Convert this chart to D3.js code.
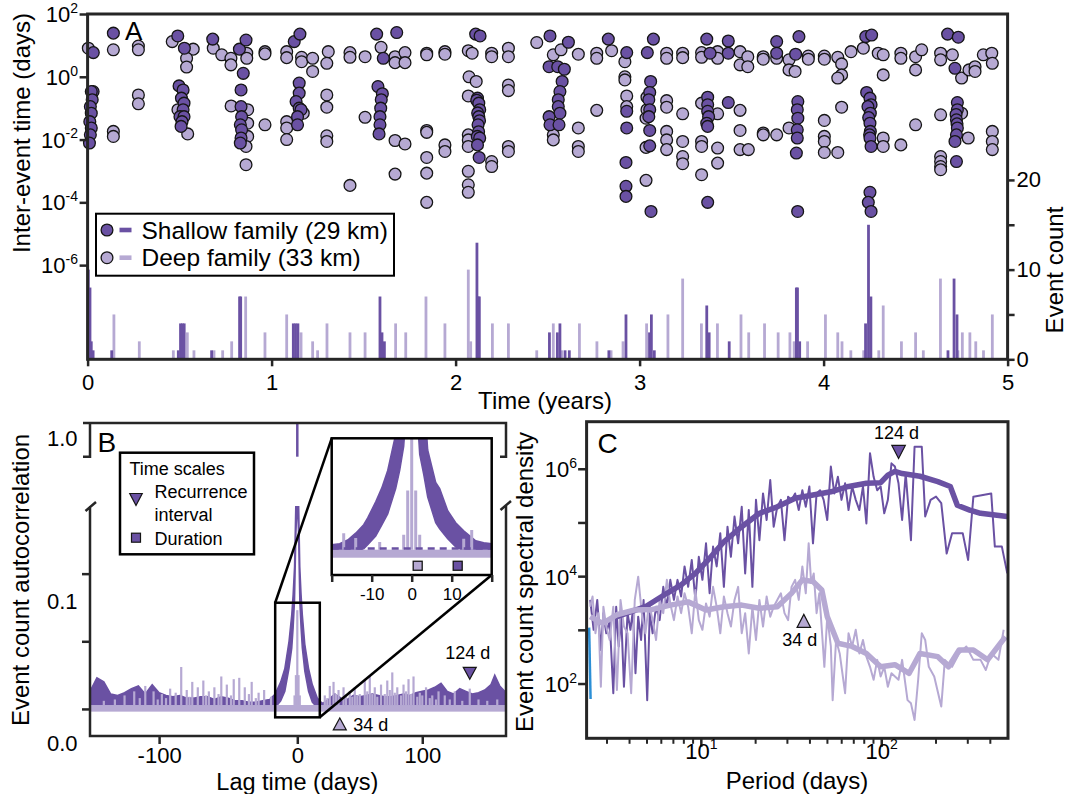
<!DOCTYPE html>
<html lang="en">
<head>
<meta charset="UTF-8">
<title>Repeating LFE families: timing, autocorrelation and spectra</title>
<script src="https://d3js.org/d3.v7.min.js"></script>
<style>
  body { margin: 0; background: #fff; }
  svg { display: block; font-family: "Liberation Sans", Arial, Helvetica, sans-serif; }
</style>
</head>
<body>
<svg id="fig" width="1069" height="794"></svg>
<script>
// ---------------- data ----------------
// Panel A: [time (years), log10 inter-event time (days)]
const shallowPts = [
  [0.031,0.77],[0.14,1.39],[0.03,-0.47],[0.02,-0.47],[0.025,-0.73],[0.015,-0.95],[0.02,-1.16],[0.012,-1.43],[0.02,-1.63],[0.015,-1.85],[0.01,-2.11],
  [0.49,1.30],[0.526,0.91],[0.497,-0.29],[0.519,-0.42],[0.51,-0.68],[0.524,-0.84],[0.519,-1.05],[0.502,-1.27],[0.524,-1.27],[0.513,-1.43],[0.508,-1.58],
  [0.68,1.20],[0.825,0.88],[0.861,1.17],[0.846,0.11],[0.834,-0.42],[0.834,-0.95],[0.837,-1.27],[0.83,-1.53],[0.837,-1.69],[0.834,-1.95],[0.83,-2.11],
  [1.123,1.12],[1.154,1.36],[1.15,-0.2],[1.15,-0.52],[1.133,-0.79],[1.15,-1.0],[1.16,-1.05],[1.141,-1.27],[1.141,-1.53],
  [1.571,1.36],[1.68,1.41],[1.607,0.59],[1.578,-0.31],[1.602,-0.54],[1.596,-0.73],[1.593,-1.0],[1.589,-1.27],[1.589,-1.53],[1.584,-1.82],
  [2.109,1.36],[2.133,1.30],[2.119,-0.68],[2.115,-0.75],[2.126,-0.84],[2.131,-1.05],[2.12,-1.15],[2.126,-1.27],[2.13,-1.4],[2.122,-1.53],[2.125,-1.75],[2.118,-1.9],[2.131,-1.95],[2.119,-2.17],[2.128,-2.57],
  [2.513,1.30],[2.613,1.10],[2.508,0.32],[2.555,0.32],[2.591,0.24],[2.579,-0.15],[2.567,-0.47],[2.558,-0.73],[2.558,-0.95],[2.567,-1.16],[2.508,-1.27],[2.513,-1.53],[2.562,-1.53],
  [2.83,1.20],[2.93,0.77],[2.93,-1.10],[2.93,-1.63],[2.926,-2.73],[2.926,-3.49],[2.926,-3.81],
  [3.042,0.77],[3.075,1.20],[3.06,-0.15],[3.055,-0.50],[3.05,-0.73],[3.055,-1.05],[3.05,-1.27],[3.055,-1.71],[3.055,-2.20],[3.062,-4.29],
  [3.365,1.20],[3.383,0.75],[3.482,1.14],[3.482,0.75],[3.37,-0.65],[3.37,-0.89],[3.37,-1.10],[3.375,-1.27],[3.365,-1.48],[3.37,-1.58],[3.482,-0.82],[3.37,-4.0],
  [3.745,1.12],[3.745,0.75],[3.866,1.28],[3.848,0.72],
  [3.86,-0.79],[3.857,-1.05],[3.86,-1.32],[3.857,-1.69],[3.857,-1.95],[3.852,-2.43],[3.859,-4.29],
  [4.229,1.28],[4.261,1.33],[4.234,-0.50],[4.252,-0.68],[4.258,-0.89],[4.241,-0.95],[4.254,-1.16],[4.245,-1.3],[4.252,-1.48],[4.254,-1.74],[4.25,-1.85],[4.252,-1.95],[4.258,-2.22],[4.252,-3.68],[4.243,-4.0],[4.258,-4.29],
  [4.674,1.36],[4.732,1.26],[4.714,0.27],[4.727,-0.82],[4.727,-1.05],[4.72,-1.2],[4.722,-1.37],[4.725,-1.5],[4.727,-1.63],[4.722,-1.85],[4.714,-2.06],[4.722,-2.70]
];
const deepPts = [
  [0.004,0.91],[0.14,0.86],[0.14,-1.74],[0.14,-1.90],[0.276,0.98],[0.276,0.86],[0.276,-0.58],[0.276,-0.86],
  [0.46,1.12],[0.574,0.88],[0.538,0.59],[0.538,0.31],[0.544,-1.82],[0.491,-1.05],
  [0.683,0.91],[0.729,0.70],[0.779,0.59],[0.779,0.38],[0.865,0.75],[0.865,0.59],[0.78,-0.93],[0.87,-1.05],[0.87,-1.48],[0.87,-1.90],[0.861,-2.22],[0.861,-2.80],
  [0.964,0.80],[0.964,0.73],[0.964,-1.53],
  [1.082,0.80],[1.082,0.61],[1.163,0.62],[1.163,0.48],[1.223,0.59],[1.223,0.17],[1.082,-1.43],[1.082,-1.63],[1.082,-2.0],[1.172,-1.16],
  [1.308,0.80],[1.30,0.43],[1.30,-0.58],[1.30,-0.97],[1.30,-1.88],[1.30,-2.06],[1.426,0.77],[1.426,0.62],[1.508,0.64],[1.426,-3.46],[1.508,-1.29],
  [1.595,0.94],[1.671,0.64],[1.671,0.45],[1.725,0.77],[1.725,0.45],[1.671,-2.03],[1.725,-2.14],[1.671,-3.1],
  [1.843,0.75],[1.843,0.70],[1.942,0.80],[1.942,0.72],[1.843,-1.71],[1.843,-1.77],[1.843,-2.57],[1.843,-3.07],[1.843,-4.0],[1.942,-2.17],[1.942,-2.38],
  [2.069,0.83],[2.09,0.75],[2.196,0.75],[2.196,0.64],[2.287,0.91],[2.287,0.64],[2.073,0.0],[2.112,-0.15],[2.287,-0.26],[2.287,-0.44],[2.069,-0.61],
  [2.069,-1.85],[2.069,-2.01],[2.069,-2.22],[2.196,-2.70],[2.196,-2.86],[2.287,-2.22],[2.287,-2.38],[2.069,-3.01],[2.069,-3.44],[2.069,-3.68],[2.441,1.09],
  [2.531,0.70],[2.573,0.86],[2.667,0.72],[2.531,-1.85],[2.531,-2.01],[2.667,-1.63],[2.667,-2.22],[2.667,-2.38],[2.767,-1.07],[2.767,0.75],[2.767,0.59],
  [2.848,0.83],[2.92,0.48],[2.92,0.0],[2.92,-0.10],[2.93,-0.61],[2.93,-0.95],[3.035,-2.25],[3.035,-3.30],[3.04,-0.65],[3.04,-1.05],[3.035,-1.32],
  [3.147,0.75],[3.147,0.59],[3.147,-0.76],[3.147,-0.97],[3.147,-1.74],[3.147,-2.01],[3.147,-2.32],
  [3.234,0.75],[3.234,0.61],[3.234,-1.18],[3.234,-2.06],[3.234,-2.54],[3.234,-2.77],
  [3.337,0.77],[3.337,0.62],[3.424,0.80],[3.424,0.59],[3.546,0.80],[3.546,0.38],[3.588,0.64],[3.588,0.32],[3.672,0.64],[3.672,0.56],[3.745,0.59],
  [3.337,-0.84],[3.424,-1.18],[3.337,-2.06],[3.337,-2.22],[3.424,-2.27],[3.424,-2.75],[3.337,-3.12],[3.546,-1.07],[3.546,-1.71],[3.546,-2.32],[3.591,-2.32],
  [3.672,-1.79],[3.672,-1.85],[3.745,-1.85],
  [3.812,0.54],[3.812,0.22],[3.845,0.17],[3.917,0.66],[3.917,0.56],[4.004,0.66],[4.004,0.56],[4.077,0.62],[4.098,0.41],[4.098,0.06],[4.077,-0.04],
  [4.149,0.80],[4.216,0.91],[4.297,0.75],[4.324,0.70],[4.324,0.06],[4.42,0.75],[4.42,0.59],[4.50,0.64],[4.533,0.86],[4.50,0.22],
  [4.636,0.75],[4.636,0.54],[4.70,0.70],[4.75,-0.04],[4.79,0.22],[4.823,0.32],[4.823,0.17],[4.868,0.70],[4.914,0.75],[4.917,0.43],
  [3.812,-1.63],[4.004,-1.39],[4.004,-1.90],[4.004,-2.06],[4.004,-2.41],[4.077,-2.41],[4.098,-0.97],[4.324,-1.95],[4.324,-2.22],[4.42,-2.17],[4.50,-1.53],
  [4.636,-1.21],[4.636,-2.54],[4.636,-2.70],[4.636,-2.86],[4.636,-2.96],[4.75,-1.16],[4.786,-1.95],[4.917,-1.74],[4.917,-2.06],[4.917,-2.32]
];
// Panel A: event counts [time (years), count]
const shallowBars = [
  [0.004,10],[0.013,8],[0.02,2],[0.03,1],[0.131,1],[0.493,1],[0.505,4],[0.515,4],[0.525,4],[0.674,1],[0.826,7],[0.832,7],
  [1.118,4],[1.13,4],[1.143,4],[1.589,7],[1.6,3],[1.613,2],[2.116,13],[2.123,7],[2.129,7],[2.51,3],[2.553,3],[2.567,4],[2.595,1],[2.618,1],
  [2.833,1],[2.926,5],[3.054,3],[3.064,5],[3.08,1],[3.365,6],[3.378,3],[3.487,2],[3.852,8],[3.858,8],[3.87,2],
  [4.228,4],[4.244,15],[4.257,7],[4.676,1],[4.709,9],[4.725,5]
];
const deepBars = [
  [0.143,5],[0.281,2],[0.466,1],[0.542,3],[0.578,1],[0.687,1],[0.734,1],[0.783,2],[0.859,7],[0.964,3],[1.082,5],[1.16,3],[1.223,2],[1.25,1],
  [1.301,4],[1.426,3],[1.508,3],[1.6,1],[1.674,4],[1.729,3],[1.839,7],[1.942,4],[2.069,10],[2.082,2],[2.2,4],[2.287,4],[2.441,1],[2.531,4],
  [2.577,1],[2.673,4],[2.768,2],[2.845,1],[2.91,2],[3.038,4],[3.154,5],[3.234,9],[3.336,4],[3.423,4],[3.551,5],[3.593,3],[3.679,4],[3.753,3],
  [3.817,3],[3.84,2],[3.913,2],[4.01,5],[4.077,3],[4.1,2],[4.148,1],[4.218,1],[4.3,1],[4.324,6],[4.423,2],[4.5,3],[4.542,1],[4.635,9],
  [4.73,1],[4.754,3],[4.795,3],[4.827,2],[4.869,1],[4.917,5]
];
const yearTicks = [0, 1, 2, 3, 4, 5];
const dtExponents = [2, 0, -2, -4, -6];
const countTicks = [0, 5, 10, 15, 20];

// Panel B: shallow autocorrelation band [lag (days), low, high]
const shallowAcf = [
  [-150,0.0195,0.033],[-145,0.0195,0.043],[-140,0.0195,0.040],[-135,0.0195,0.031],[-130,0.0195,0.030],[-125,0.0195,0.032],
  [-120,0.0195,0.035],[-115,0.0195,0.037],[-110,0.0195,0.031],[-105,0.0195,0.038],[-100,0.0195,0.032],[-95,0.0195,0.030],
  [-90,0.0195,0.029],[-85,0.0195,0.030],[-80,0.0195,0.028],[-75,0.0195,0.028],[-70,0.0195,0.029],[-65,0.0195,0.029],
  [-60,0.0195,0.027],[-55,0.0195,0.029],[-50,0.0195,0.028],[-45,0.0195,0.026],[-40,0.0195,0.026],[-35,0.0195,0.025],
  [-30,0.0195,0.025],[-25,0.0195,0.026],[-20,0.0195,0.027],[-16,0.021,0.031],[-12,0.026,0.040],[-9,0.033,0.050],
  [-6,0.050,0.070],[-4,0.065,0.090],[-3,0.080,0.105],[-2,0.100,0.125],[-1,0.150,0.175],[0,0.175,0.175],[1,0.150,0.175],
  [2,0.100,0.125],[3,0.080,0.105],[4,0.065,0.090],[6,0.048,0.068],[9,0.033,0.050],[12,0.025,0.038],[16,0.021,0.028],
  [20,0.0195,0.024],[25,0.0195,0.027],[30,0.0195,0.031],[35,0.0195,0.028],[40,0.0195,0.027],[45,0.0195,0.030],
  [50,0.0195,0.029],[55,0.0195,0.030],[60,0.0195,0.031],[65,0.0195,0.030],[70,0.0195,0.029],[75,0.0195,0.029],
  [80,0.0195,0.030],[85,0.0195,0.031],[90,0.0195,0.030],[95,0.0195,0.032],[100,0.0195,0.033],[105,0.0195,0.034],
  [110,0.0195,0.036],[115,0.0195,0.039],[120,0.0195,0.033],[125,0.0195,0.031],[130,0.0195,0.035],[135,0.0195,0.033],
  [140,0.0195,0.031],[145,0.0195,0.032],[150,0.0195,0.034],[155,0.0195,0.038],[158,0.0195,0.045],[162,0.0195,0.037],
  [167,0.0195,0.032]
];
const shallowAcfZero = [0.96, 1.0];
// deep autocorrelation: flat floor plus spikes [lag, value]
const deepAcfFloor = [0.018, 0.0229];
const deepAcfSpikes = [
  [-140,0.026],[-132,0.027],[-125,0.030],[-118,0.033],[-114,0.028],[-110,0.037],[-104,0.033],[-101,0.027],[-98,0.031],[-95,0.028],
  [-92,0.035],[-88,0.032],[-84,0.051],[-80,0.034],[-78,0.029],[-76,0.040],[-72,0.036],[-68,0.041],[-66,0.030],[-64,0.033],[-60,0.036],
  [-57,0.031],[-55,0.044],[-51,0.038],[-48,0.030],[-46,0.042],[-42,0.043],[-38,0.036],[-35,0.031],[-33,0.040],[-30,0.028],[-28,0.032],
  [-24,0.034],[-19,0.029],[-2,0.030],[-1,0.045],[0,0.093],[1,0.045],[2,0.030],
  [22,0.030],[24,0.028],[26,0.037],[29,0.040],[31,0.031],[33,0.034],[37,0.036],[39,0.030],[42,0.033],[44,0.029],[46,0.036],[48,0.030],
  [50,0.031],[54,0.041],[56,0.033],[58,0.045],[60,0.031],[62,0.036],[64,0.029],[67,0.038],[70,0.031],[72,0.041],[74,0.034],[76,0.047],
  [78,0.032],[80,0.036],[83,0.030],[85,0.038],[87,0.033],[89,0.042],[91,0.031],[93,0.044],[96,0.029],[98,0.032],[100,0.030],[103,0.036],
  [106,0.028],[108,0.030],[111,0.027],[113,0.033],[118,0.030],[122,0.027],[126,0.033],[132,0.026],[138,0.035],[145,0.027],[152,0.026],[160,0.027]
];
const lagTicks = [-100, 0, 100];
const acfMinorTicks = [0.02, 0.07, 0.12];
const acfLabels = [[0.0, "0.0"], [0.1, "0.1"]];
// inset (zoom on lag 0) [lag, low, high]
const insetShallow = [
  [-20,0.0197,0.0215],[-18,0.0197,0.0218],[-16,0.0198,0.0227],[-14,0.0200,0.0244],[-12,0.0205,0.0265],[-11,0.0215,0.0282],
  [-9,0.0237,0.0322],[-7.5,0.0264,0.0356],[-6,0.0292,0.0400],[-4,0.0355,0.0490],[-3,0.0400,0.060],[-2,0.0460,0.060],
  [-1,0.060,0.060],[0,0.060,0.060],[1,0.060,0.060],[2,0.044,0.060],[3,0.039,0.060],[4,0.0334,0.0451],[6,0.0270,0.0370],
  [7,0.0255,0.0355],[9,0.0230,0.0300],[11,0.0210,0.0270],[13,0.0200,0.0250],[16,0.0196,0.0225],[18,0.0195,0.0220],[20,0.0195,0.0218]
];
const insetDeepFloor = [0.0183, 0.0203];
const insetDeepSpikes = [[-17,0.0244],[-14,0.0232],[-8,0.0222],[-2,0.024],[-1,0.035],[0,0.06],[1,0.035],[2,0.024],[13,0.023],[15,0.0252]];
const insetMean = 0.0206;
const insetTicks = [-20, -10, 0, 10, 20];
const durations = [[1.5, "deep"], [11.5, "shallow"]];
const recurrence = { shallow: [138, 0.0463], deep: [34, 0.0089] };

// Panel C: [log10 period (days), log10 spectral density]
const shallowPsd = [
  [0.384,3.566],[0.403,3.01],[0.423,3.566],[0.443,2.635],[0.457,3.32],[0.473,2.945],[0.492,3.19],[0.512,1.83],[0.528,3.44],[0.542,2.70],
  [0.556,3.255],[0.571,1.95],[0.591,3.32],[0.607,3.01],[0.621,3.38],[0.635,2.20],[0.650,3.255],[0.666,2.82],[0.680,3.566],[0.700,1.70],
  [0.714,3.32],[0.730,2.945],[0.749,3.44],[0.769,3.19],[0.789,3.81],[0.809,3.44],[0.828,3.94],[0.848,3.566],[0.868,3.94],[0.888,3.63],
  [0.907,4.19],[0.927,3.81],[0.947,4.31],[0.967,3.566],[0.986,4.37],[1.006,3.94],[1.026,4.62],[1.046,3.69],[1.065,4.56],[1.085,4.19],
  [1.105,4.81],[1.125,3.81],[1.145,4.93],[1.164,4.37],[1.184,5.12],[1.204,4.62],[1.224,5.30],[1.243,4.06],[1.263,5.24],[1.283,3.81],
  [1.303,5.43],[1.322,4.68],[1.342,5.55],[1.362,5.055],[1.382,5.80],[1.401,4.93],[1.421,5.30],[1.441,5.43],[1.461,4.68],[1.481,5.49],
  [1.500,5.43],[1.520,5.55],[1.540,5.24],[1.560,5.61],[1.579,5.30],[1.599,5.68],[1.619,4.62],[1.639,5.55],[1.658,5.61],[1.678,5.43],
  [1.698,5.055],[1.718,6.05],[1.737,5.55],[1.757,5.86],[1.777,5.43],[1.797,5.74],[1.816,5.24],[1.836,5.68],[1.856,5.43],[1.876,5.24],
  [1.896,5.68],[1.915,4.99],[1.935,6.30],[1.955,5.86],[1.975,5.61],[1.994,5.68],[2.014,5.18],[2.034,5.43],[2.054,6.11],[2.073,6.05],
  [2.093,5.74],[2.113,5.055],[2.133,5.92],[2.162,4.68],[2.182,6.42],[2.222,6.42],[2.241,5.12],[2.271,5.43],[2.301,5.49],[2.330,5.37],
  [2.360,4.43],[2.390,4.81],[2.449,4.81],[2.479,4.31],[2.508,5.49],[2.607,5.55],[2.627,4.56],[2.666,4.56],[2.696,4.06]
];
const shallowPsdSmooth = [
  [0.532,3.255],[0.690,3.44],[0.809,3.69],[0.888,3.845],[0.967,4.06],[1.046,4.34],[1.125,4.65],[1.224,4.93],[1.322,5.18],[1.421,5.30],
  [1.520,5.46],[1.619,5.52],[1.718,5.58],[1.816,5.68],[1.915,5.74],[1.994,5.75],[2.034,5.89],[2.073,5.96],[2.113,5.92],[2.212,5.87],
  [2.311,5.77],[2.380,5.68],[2.419,5.33],[2.488,5.24],[2.548,5.18],[2.696,5.12]
];
const deepPsd = [
  [0.384,3.44],[0.397,3.63],[0.413,2.945],[0.429,3.32],[0.443,1.95],[0.457,3.44],[0.473,3.07],[0.492,2.82],[0.512,3.44],[0.532,1.89],
  [0.552,3.566],[0.571,3.07],[0.591,2.945],[0.611,1.83],[0.631,3.566],[0.650,4.00],[0.670,3.32],[0.690,2.945],[0.710,3.50],[0.730,3.19],
  [0.749,2.82],[0.769,3.566],[0.789,3.32],[0.809,3.94],[0.828,3.50],[0.848,3.19],[0.868,3.63],[0.888,3.32],[0.907,3.69],[0.927,3.44],
  [0.947,2.945],[0.967,3.75],[0.986,3.19],[1.006,3.01],[1.026,3.50],[1.046,3.255],[1.065,3.81],[1.085,3.44],[1.105,2.945],[1.125,3.63],
  [1.145,3.32],[1.164,3.07],[1.184,3.566],[1.204,3.81],[1.224,2.945],[1.243,3.32],[1.263,2.57],[1.283,3.44],[1.303,2.82],[1.322,3.566],
  [1.342,3.07],[1.362,3.63],[1.382,3.255],[1.401,3.44],[1.421,3.566],[1.441,3.69],[1.461,3.32],[1.481,3.19],[1.500,3.81],[1.520,3.94],
  [1.540,3.566],[1.560,4.19],[1.579,3.69],[1.595,4.62],[1.609,3.88],[1.623,4.06],[1.639,3.32],[1.654,3.69],[1.668,3.01],[1.682,2.32],
  [1.698,3.255],[1.718,2.70],[1.728,1.70],[1.747,2.82],[1.767,2.57],[1.797,1.83],[1.816,2.945],[1.836,2.70],[1.856,3.01],[1.876,2.57],
  [1.896,2.82],[1.915,2.51],[1.935,2.32],[1.955,2.08],[1.975,2.45],[1.994,2.14],[2.014,2.32],[2.034,1.95],[2.054,2.20],[2.093,2.08],
  [2.113,2.45],[2.143,1.70],[2.162,1.64],[2.182,1.33],[2.202,2.08],[2.222,2.945],[2.241,2.82],[2.261,2.32],[2.291,2.14],[2.330,1.58],
  [2.350,2.45],[2.390,2.32],[2.429,2.57],[2.469,2.70],[2.508,2.45],[2.548,2.45],[2.577,2.26],[2.607,2.57],[2.647,2.45],[2.676,3.01]
];
const deepPsdSmooth = [
  [0.384,3.255],[0.453,3.13],[0.532,3.29],[0.631,3.38],[0.730,3.39],[0.828,3.47],[0.927,3.53],[1.026,3.38],[1.125,3.44],[1.224,3.47],
  [1.322,3.41],[1.421,3.44],[1.500,3.69],[1.560,3.94],[1.619,3.91],[1.668,3.75],[1.698,3.255],[1.757,2.76],[1.836,2.70],[1.915,2.57],
  [1.994,2.32],[2.073,2.36],[2.152,2.20],[2.212,2.57],[2.311,2.51],[2.370,2.32],[2.429,2.635],[2.508,2.635],[2.587,2.45],[2.686,2.88]
];
const edgeTrace = [[0.378,3.05],[0.386,1.72]];
const periodMinor = [3, 4, 5, 6, 7, 8, 9, 20, 30, 40, 50, 60, 70, 80, 90, 200, 300, 400];
const periodMajor = [1, 2];
const psdMajor = [2, 4, 6];
const psdMinor = [3, 5];
const psdMarks = { shallow: [124, 2.1e6, "124 d"], deep: [37, 1.5e3, "34 d"] };

// ---------------- drawing ----------------
const svg = d3.select("#fig");
const dark = "#6a51a3", light = "#b6a9d3", ink = "#262626", blue = "#2b8fd6";

function styleAxis(g, size) {
  g.attr("font-family", null).attr("font-size", size);
  g.select(".domain").remove();
  g.selectAll(".tick line").attr("stroke", ink).attr("stroke-width", 2.5);
  g.selectAll(".tick text").attr("fill", "#000");
}

function powLabel(g, x, y, exp, anchor, size) {
  const t = g.append("text").attr("x", x).attr("y", y).attr("text-anchor", anchor)
    .attr("font-size", size).attr("fill", "#000");
  t.append("tspan").text("10");
  t.append("tspan").attr("dy", -size * 0.42).attr("font-size", Math.round(size * 0.64)).text(exp);
}

function tri(x, y, w, h, down) {
  const s = down ? 1 : -1;
  return `M${x - w / 2},${y - s * h / 2}L${x + w / 2},${y - s * h / 2}L${x},${y + s * h / 2}Z`;
}

// ===== Panel A =====
const xA = d3.scaleLinear().domain([0, 5]).range([87.6, 1007.6]);
const yA = d3.scaleLog().domain([1e-9, 1e2]).range([359.3, 14]);
const yCnt = d3.scaleLinear().domain([0, 38.5]).range([359.3, 14]);
const gA = svg.append("g");

[[deepBars, light], [shallowBars, dark]].forEach(([bars, col]) => {
  gA.append("g").selectAll("line").data(bars).join("line")
    .attr("x1", d => xA(d[0])).attr("x2", d => xA(d[0]))
    .attr("y1", yCnt(0)).attr("y2", d => yCnt(d[1]))
    .attr("stroke", col).attr("stroke-width", 2.8);
});
[[deepPts, light], [shallowPts, dark]].forEach(([pts, col]) => {
  gA.append("g").selectAll("circle").data(pts).join("circle")
    .attr("cx", d => xA(d[0])).attr("cy", d => yA(10 ** d[1]))
    .attr("r", 5.9).attr("fill", col).attr("stroke", "#151515").attr("stroke-width", 1.3);
});

const axA = gA.append("g").attr("transform", `translate(0,${yA.range()[0]})`)
  .call(d3.axisBottom(xA).tickValues(yearTicks).tickFormat(d3.format("d")).tickSize(7).tickPadding(8));
styleAxis(axA, 22);

const ayA = gA.append("g").attr("transform", `translate(${xA(0)},0)`)
  .call(d3.axisLeft(yA).tickValues(dtExponents.map(e => 10 ** e)).tickFormat("").tickSize(8));
styleAxis(ayA, 22);
dtExponents.forEach(e => powLabel(gA, 78, yA(10 ** e) + 8, e, "end", 22));

const ayR = gA.append("g").attr("transform", `translate(${xA(5)},0)`)
  .call(d3.axisRight(yCnt).tickValues(countTicks).tickFormat(d => d % 10 === 0 ? d : "").tickSize(7).tickPadding(2));
styleAxis(ayR, 22);

gA.append("rect").attr("x", xA(0)).attr("y", yA(1e2)).attr("width", xA(5) - xA(0)).attr("height", yA(1e-9) - yA(1e2))
  .attr("fill", "none").attr("stroke", ink).attr("stroke-width", 3);

gA.append("text").attr("x", 125).attr("y", 39.5).attr("font-size", 26).text("A");
gA.append("text").attr("transform", "translate(29.5,133) rotate(-90)").attr("text-anchor", "middle")
  .attr("font-size", 24).text("Inter-event time (days)");
gA.append("text").attr("transform", "translate(1062.5,270) rotate(-90)").attr("text-anchor", "middle")
  .attr("font-size", 24).text("Event count");
gA.append("text").attr("x", 545).attr("y", 409).attr("text-anchor", "middle").attr("font-size", 24).text("Time (years)");

// legend A
const legA = gA.append("g");
legA.append("rect").attr("x", 96).attr("y", 213.7).attr("width", 298).attr("height", 62)
  .attr("fill", "#fff").attr("stroke", "#000").attr("stroke-width", 2);
[["Shallow family (29 km)", dark, 230], ["Deep family (33 km)", light, 257.7]].forEach(([lab, col, y]) => {
  legA.append("circle").attr("cx", 107).attr("cy", y).attr("r", 5.9).attr("fill", col)
    .attr("stroke", "#151515").attr("stroke-width", 1.3);
  legA.append("rect").attr("x", 119.5).attr("y", y - 2.3).attr("width", 12).attr("height", 4.6).attr("fill", col);
  legA.append("text").attr("x", 141.5).attr("y", y + 8.5).attr("font-size", 24.5).text(lab);
});

// ===== Panel B =====
const xB = d3.scaleLinear().domain([-150, 0, 167]).range([90, 297.3, 506]);
const yB = d3.scaleLinear().domain([0, 0.1]).range([736, 600.7]);
const yBtop = d3.scaleLinear().domain([0.96, 1.0]).range([456.7, 423]);
const gB = svg.append("g");

gB.append("clipPath").attr("id", "clipB").append("rect")
  .attr("x", 90).attr("y", 506).attr("width", 416).attr("height", 230);
const plotB = gB.append("g").attr("clip-path", "url(#clipB)");

plotB.append("path").datum(shallowAcf)
  .attr("d", d3.area().x(d => xB(d[0])).y0(d => yB(d[1])).y1(d => yB(d[2])))
  .attr("fill", dark).attr("stroke", dark).attr("stroke-width", 1.5);
plotB.append("rect").attr("x", xB(-150)).attr("width", xB(167) - xB(-150))
  .attr("y", yB(deepAcfFloor[1])).attr("height", yB(deepAcfFloor[0]) - yB(deepAcfFloor[1])).attr("fill", light);
plotB.append("g").selectAll("line").data(deepAcfSpikes).join("line")
  .attr("x1", d => xB(d[0])).attr("x2", d => xB(d[0]))
  .attr("y1", yB(deepAcfFloor[1])).attr("y2", d => yB(d[1]))
  .attr("stroke", light).attr("stroke-width", 2.2);

gB.append("line").attr("x1", xB(0)).attr("x2", xB(0))
  .attr("y1", yBtop(shallowAcfZero[0])).attr("y2", yBtop(shallowAcfZero[1]))
  .attr("stroke", dark).attr("stroke-width", 2.5);

// broken frame
const frameB = gB.append("g").attr("fill", "none").attr("stroke", ink).attr("stroke-width", 2.5);
frameB.append("path").attr("d", `M83,${yBtop(1)}H506V${yBtop(0.96)}H500`);
frameB.append("path").attr("d", `M90,${yBtop(1)}V${yBtop(0.96)}H83`);
frameB.append("path").attr("d", `M85.5,511L96,502M90,506V736H506V505M500.5,510L511,501`);

const axB = gB.append("g").attr("transform", "translate(0,736)")
  .call(d3.axisBottom(xB).tickValues(lagTicks).tickFormat(d => String(d)).tickSize(8).tickPadding(3));
styleAxis(axB, 22);
const ayB = gB.append("g").attr("transform", "translate(90,0)")
  .call(d3.axisLeft(yB).tickValues(acfMinorTicks).tickFormat("").tickSize(8));
styleAxis(ayB, 22);
acfLabels.forEach(([v, s]) => {
  gB.append("text").attr("x", 77.5).attr("y", yB(v) + (v === 0 ? 15 : 8)).attr("text-anchor", "end")
    .attr("font-size", 22).text(s);
});
gB.append("text").attr("x", 77.5).attr("y", (yBtop(0.96) + yBtop(1)) / 2 + 6.5).attr("text-anchor", "end")
  .attr("font-size", 22).text("1.0");

gB.append("text").attr("x", 97.5).attr("y", 452).attr("font-size", 28).text("B");
gB.append("text").attr("transform", "translate(29,580) rotate(-90)").attr("text-anchor", "middle")
  .attr("font-size", 24).text("Event count autocorrelation");
gB.append("text").attr("x", 297.3).attr("y", 790).attr("text-anchor", "middle").attr("font-size", 23.5).text("Lag time (days)");

// recurrence markers
const [rsLag, rsVal] = recurrence.shallow, [rdLag, rdVal] = recurrence.deep;
gB.append("path").attr("d", tri(xB(rsLag), yB(rsVal), 13, 12, true)).attr("fill", dark).attr("stroke", "#151515").attr("stroke-width", 1.2);
gB.append("text").attr("x", xB(rsLag) - 2).attr("y", 659).attr("text-anchor", "middle").attr("font-size", 18).text("124 d");
gB.append("path").attr("d", tri(xB(rdLag), yB(rdVal), 13, 12, false)).attr("fill", light).attr("stroke", "#151515").attr("stroke-width", 1.2);
gB.append("text").attr("x", xB(rdLag) + 13.5).attr("y", 730.5).attr("font-size", 18).text("34 d");

// zoom box and connectors
const ix = d3.scaleLinear().domain([-20, 20]).range([331.7, 491.7]);
const iy = d3.scaleLinear().domain([0.014, 0.048]).range([575, 438.3]);
const box = { l: -16, r: 18, b: 0.0138, t: 0.0985 };
gB.append("rect").attr("x", xB(box.l)).attr("y", yB(box.t)).attr("width", xB(box.r) - xB(box.l)).attr("height", yB(box.b) - yB(box.t))
  .attr("fill", "none").attr("stroke", "#000").attr("stroke-width", 2.5);
gB.append("line").attr("x1", xB(box.l)).attr("y1", yB(box.t)).attr("x2", ix(-20)).attr("y2", iy(0.048))
  .attr("stroke", "#000").attr("stroke-width", 2.5);
gB.append("line").attr("x1", xB(box.r)).attr("y1", yB(box.b)).attr("x2", ix(20)).attr("y2", iy(0.014))
  .attr("stroke", "#000").attr("stroke-width", 2.5);

// inset
const gI = gB.append("g");
gI.append("rect").attr("x", ix(-20)).attr("y", iy(0.048)).attr("width", ix(20) - ix(-20)).attr("height", iy(0.014) - iy(0.048)).attr("fill", "#fff");
gI.append("clipPath").attr("id", "clipI").append("rect")
  .attr("x", ix(-20)).attr("y", iy(0.048)).attr("width", ix(20) - ix(-20)).attr("height", iy(0.014) - iy(0.048));
const plotI = gI.append("g").attr("clip-path", "url(#clipI)");
plotI.append("path").datum(insetShallow)
  .attr("d", d3.area().x(d => ix(d[0])).y0(d => iy(d[1])).y1(d => iy(d[2])))
  .attr("fill", dark).attr("stroke", dark).attr("stroke-width", 1.5);
plotI.append("rect").attr("x", ix(-20)).attr("width", ix(20) - ix(-20))
  .attr("y", iy(insetDeepFloor[1])).attr("height", iy(insetDeepFloor[0]) - iy(insetDeepFloor[1])).attr("fill", light);
plotI.append("g").selectAll("line").data(insetDeepSpikes).join("line")
  .attr("x1", d => ix(d[0])).attr("x2", d => ix(d[0]))
  .attr("y1", iy(insetDeepFloor[1])).attr("y2", d => iy(d[1]))
  .attr("stroke", light).attr("stroke-width", 3);
plotI.append("line").attr("x1", ix(-20)).attr("x2", ix(20)).attr("y1", iy(insetMean)).attr("y2", iy(insetMean))
  .attr("stroke", dark).attr("stroke-width", 2.5).attr("stroke-dasharray", "7,5");
gI.selectAll("rect.dur").data(durations).join("rect").attr("class", "dur")
  .attr("x", d => ix(d[0]) - 4.5).attr("y", iy(0.0163) - 4.5).attr("width", 9).attr("height", 9)
  .attr("fill", d => d[1] === "deep" ? light : dark).attr("stroke", "#151515").attr("stroke-width", 1.3);
gI.append("rect").attr("x", ix(-20)).attr("y", iy(0.048)).attr("width", ix(20) - ix(-20)).attr("height", iy(0.014) - iy(0.048))
  .attr("fill", "none").attr("stroke", "#000").attr("stroke-width", 2.5);
const axI = gI.append("g").attr("transform", `translate(0,${iy(0.014)})`)
  .call(d3.axisBottom(ix).tickValues(insetTicks).tickFormat(d => Math.abs(d) === 20 ? "" : String(d)).tickSize(7).tickPadding(6));
styleAxis(axI, 17);

// legend B
const legB = gB.append("g");
legB.append("rect").attr("x", 120).attr("y", 452.7).attr("width", 134).attr("height", 101.6)
  .attr("fill", "#fff").attr("stroke", "#000").attr("stroke-width", 2.5);
legB.append("text").attr("x", 129.5).attr("y", 475).attr("font-size", 18).text("Time scales");
legB.append("path").attr("d", tri(136, 499.5, 12.5, 12, true)).attr("fill", dark).attr("stroke", "#151515").attr("stroke-width", 1.2);
legB.append("text").attr("x", 154.5).attr("y", 498).attr("font-size", 18).text("Recurrence");
legB.append("text").attr("x", 154.5).attr("y", 521).attr("font-size", 18).text("interval");
legB.append("rect").attr("x", 131.5).attr("y", 533.2).attr("width", 9).attr("height", 9).attr("fill", dark).attr("stroke", "#151515").attr("stroke-width", 1.2);
legB.append("text").attr("x", 154.5).attr("y", 545).attr("font-size", 18).text("Duration");

// ===== Panel C =====
const xC = d3.scaleLog().domain([10 ** 0.364, 10 ** 2.70]).range([586.6, 1008]);
const yC = d3.scaleLog().domain([10 ** 0.989, 10 ** 6.886]).range([738.3, 421.7]);
const gC = svg.append("g");
gC.append("clipPath").attr("id", "clipC").append("rect")
  .attr("x", 586.6).attr("y", 421.7).attr("width", 421.4).attr("height", 316.6);
const plotC = gC.append("g").attr("clip-path", "url(#clipC)");
const lineC = d3.line().x(d => xC(10 ** d[0])).y(d => yC(10 ** d[1]));

[[shallowPsd, dark, 2], [deepPsd, light, 2], [shallowPsdSmooth, dark, 5.5], [deepPsdSmooth, light, 5.5], [edgeTrace, blue, 2.5]]
  .forEach(([data, col, w]) => {
    plotC.append("path").datum(data).attr("d", lineC).attr("fill", "none")
      .attr("stroke", col).attr("stroke-width", w).attr("stroke-linejoin", "round");
  });

gC.append("rect").attr("x", 586.6).attr("y", 421.7).attr("width", 421.4).attr("height", 316.6)
  .attr("fill", "none").attr("stroke", ink).attr("stroke-width", 3);

const axC = gC.append("g").attr("transform", "translate(0,738.3)");
axC.selectAll("line.minor").data(periodMinor).join("line").attr("class", "minor")
  .attr("x1", d => xC(d)).attr("x2", d => xC(d)).attr("y1", 0).attr("y2", 5.5)
  .attr("stroke", ink).attr("stroke-width", 2);
axC.selectAll("line.major").data(periodMajor).join("line").attr("class", "major")
  .attr("x1", d => xC(10 ** d)).attr("x2", d => xC(10 ** d)).attr("y1", 0).attr("y2", 8.5)
  .attr("stroke", ink).attr("stroke-width", 2.5);
periodMajor.forEach(e => powLabel(gC, xC(10 ** e), 758.5, e, "middle", 22));

const ayC = gC.append("g").attr("transform", "translate(586.6,0)");
ayC.selectAll("line").data(psdMajor.concat(psdMinor)).join("line")
  .attr("x1", 0).attr("x2", -8.5).attr("y1", d => yC(10 ** d)).attr("y2", d => yC(10 ** d))
  .attr("stroke", ink).attr("stroke-width", 2.5);
psdMajor.forEach(e => powLabel(gC, 577, yC(10 ** e) + 8, e, "end", 22));

gC.append("text").attr("x", 597.5).attr("y", 453).attr("font-size", 28).text("C");
gC.append("text").attr("transform", "translate(532.5,582) rotate(-90)").attr("text-anchor", "middle")
  .attr("font-size", 24).text("Event count spectral density");
gC.append("text").attr("x", 797).attr("y", 789).attr("text-anchor", "middle").attr("font-size", 24).text("Period (days)");

const [msP, msV, msT] = psdMarks.shallow, [mdP, mdV, mdT] = psdMarks.deep;
gC.append("path").attr("d", tri(xC(msP), yC(msV), 13.5, 13, true)).attr("fill", dark).attr("stroke", "#151515").attr("stroke-width", 1.2);
gC.append("text").attr("x", xC(msP) - 2).attr("y", 439).attr("text-anchor", "middle").attr("font-size", 18).text(msT);
gC.append("path").attr("d", tri(xC(mdP), yC(mdV), 13.5, 13, false)).attr("fill", light).attr("stroke", "#151515").attr("stroke-width", 1.2);
gC.append("text").attr("x", xC(mdP) - 4).attr("y", 646).attr("text-anchor", "middle").attr("font-size", 18).text(mdT);
</script>
</body>
</html>
